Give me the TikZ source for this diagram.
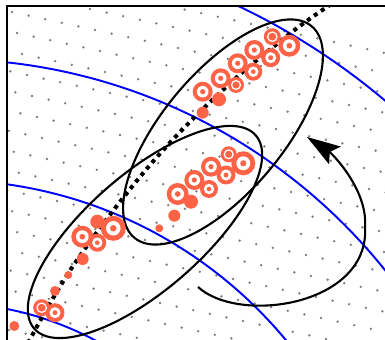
\documentclass[tikz,border=0pt]{standalone}
\usepackage{tikz}
\usetikzlibrary{arrows.meta}
\definecolor{mkred}{RGB}{255,99,71}
\definecolor{dotgray}{RGB}{128,128,128}
\definecolor{lvlblue}{RGB}{0,0,255}

\begin{document}
\begin{tikzpicture}[x=0.02cm, y=-0.02cm,
  lvl/.style={lvlblue, line width=1.1pt},
  blob/.style={black, line width=1.2pt},
  trail/.style={black, line width=2.3pt, dash pattern=on 2.3pt off 2.5pt},
  flow/.style={black, line width=1.2pt, -{Stealth[length=19pt,width=12pt,inset=3.5pt]}},
  frm/.style={black, line width=1.2pt}
]
  \useasboundingbox (0,0) rectangle (385,340);
  \coordinate (pole) at (-55,623);
  \coordinate (lowc) at (145,232);
  \coordinate (upc) at (223,132);

  \begin{scope}
  \clip (7,6) rectangle (385,340);
  % background dots
  \foreach \i in {-8,...,24} {
    \foreach \j in {-2,...,17} {
      \fill[dotgray] ({\i*16.6+\j*5+12},{\i*3.6+\j*21+12}) circle (0.75pt);
    }
  }

  % level curves
  \foreach \r in {320,443,564,683} {
    \draw[lvl] (pole) circle[radius=\r];
  }

  % path
  \draw[trail] plot[smooth, tension=0.6] coordinates {(28,343) (75,263) (150,165) (225,88) (292,32) (333,3)};

  % ellipses
  \draw[blob, rotate around={41.1:(lowc)}] (lowc) ellipse[x radius=147, y radius=58];
  \draw[blob, rotate around={50:(upc)}] (upc) ellipse[x radius=138, y radius=60];

  % solid samples
  \foreach \x/\y/\r in {219/99.3/7, 202.7/112.7/6, 191/201.7/7, 174.3/215.7/6, 159.3/228.3/4,
                        97.3/221.7/7, 82.7/259/6, 68.3/275/4, 55/291/5, 14.3/326/5} {
    \fill[mkred] (\x,\y) circle[radius=\r];
  }
  % bull's-eye samples
  \foreach \x/\y/\r in {202.7/91.7/10, 220.7/78.3/10, 237.7/63.3/10, 254.3/50/10, 289.3/45.7/11,
                        270.7/57.7/9.5, 253.3/71.7/9,
                        177.7/194/11, 194.3/180/10, 211/166.7/10, 243.3/163.3/12, 226/175/9.5, 209/189/9,
                        82.3/236.7/11, 97.3/242.7/9, 113.3/228.3/12.5, 55/312.7/9.5} {
    \fill[mkred] (\x,\y) circle[radius=\r];
    \fill[white] (\x,\y) circle[radius=0.58*\r];
    \fill[mkred] (\x,\y) circle[radius=0.26*\r];
  }
  % thin-ring samples
  \foreach \x/\y/\r in {272.3/36.7/8.5, 236/85/8, 228.7/154.3/8, 41.7/307.7/8.5} {
    \fill[mkred] (\x,\y) circle[radius=\r];
    \draw[white, line width=0.7pt] (\x,\y) circle[radius=0.55*\r];
  }

  % swirl
  \coordinate (swirl start) at (198,287);
  \coordinate (swirl mid) at (365,227);
  \coordinate (swirl tip) at (307,137);
  \draw[flow] (swirl start) .. controls (240,325) and (370,305) .. (swirl mid)
    .. controls (368,190) and (332,153.5) .. (swirl tip);
  \end{scope}

  % frame
  \draw[frm] (7,340) -- (7,6) -- (385,6);
\end{tikzpicture}
\end{document}
